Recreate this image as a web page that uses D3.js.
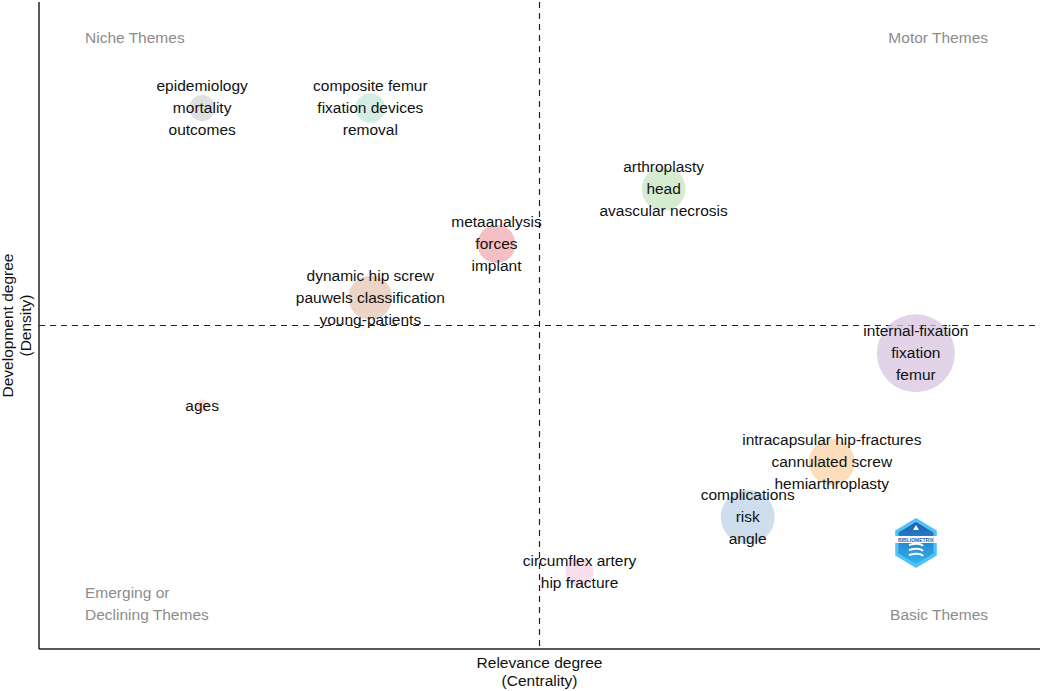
<!DOCTYPE html>
<html>
<head>
<meta charset="utf-8">
<script src="https://cdn.jsdelivr.net/npm/d3@7"></script>
<style>
  body { margin: 0; background: #fff; }
  svg { display: block; font-family: "Liberation Sans", Arial, sans-serif; }
</style>
</head>
<body>
<svg id="chart" width="1040" height="691"></svg>
<script>
// cluster data (centrality, density, frequency)
const clusterLabels = [
  ["epidemiology", "mortality", "outcomes"],
  ["composite femur", "fixation devices", "removal"],
  ["metaanalysis", "forces", "implant"],
  ["dynamic hip screw", "pauwels classification", "young-patients"],
  ["arthroplasty", "head", "avascular necrosis"],
  ["internal-fixation", "fixation", "femur"],
  ["ages"],
  ["intracapsular hip-fractures", "cannulated screw", "hemiarthroplasty"],
  ["complications", "risk", "angle"],
  ["circumflex artery", "hip fracture"]
];
const centrality = [16.3, 33.1, 45.7, 33.1, 62.4, 87.6, 16.3, 79.2, 70.8, 54.0];
const density    = [83.6, 83.6, 62.6, 54.3, 71.1, 45.7, 37.6, 28.9, 20.4, 11.9];
const frequency  = [17, 22, 36, 48, 48, 152, 4, 53, 73, 20];
const colors = ["#d6d6d6", "#c3e8da", "#f2aab3", "#e6c7b3", "#c7e6c1", "#dac4e0",
                "#f9cfc4", "#fbd3a6", "#bfd3e6", "#f9d3e6"];
const centralityMid = 50, densityMid = 50;
const quadrantNames = ["Niche Themes", "Motor Themes", "Emerging or\nDeclining Themes", "Basic Themes"];

const svg = d3.select("#chart");
const margin = { left: 39, right: 0, top: 2, bottom: 42 };
const W = 1040, H = 691;

const x = d3.scaleLinear().domain([0, 100]).range([margin.left, W - margin.right]);
const y = d3.scaleLinear().domain([0, 100]).range([H - margin.bottom, margin.top]);
const r = d3.scaleSqrt().domain([0, 160]).range([0, 40]);

const data = clusterLabels.map((lab, i) => ({
  lines: lab, x: centrality[i], y: density[i], f: frequency[i], c: colors[i]
}));

// quadrant dividers
svg.append("line")
  .attr("x1", x(centralityMid)).attr("x2", x(centralityMid))
  .attr("y1", y(100)).attr("y2", y(0))
  .attr("stroke", "#222").attr("stroke-width", 1.2).attr("stroke-dasharray", "6,5");
svg.append("line")
  .attr("x1", x(0)).attr("x2", x(100))
  .attr("y1", y(densityMid)).attr("y2", y(densityMid))
  .attr("stroke", "#222").attr("stroke-width", 1.2).attr("stroke-dasharray", "6,5");

// axes frame
svg.append("line").attr("x1", x(0)).attr("x2", x(0)).attr("y1", y(100)).attr("y2", y(0))
  .attr("stroke", "#222").attr("stroke-width", 1.5);
svg.append("line").attr("x1", x(0)).attr("x2", x(100)).attr("y1", y(0)).attr("y2", y(0))
  .attr("stroke", "#222").attr("stroke-width", 1.5);

// bubbles
svg.append("g").selectAll("circle")
  .data(data)
  .join("circle")
  .attr("cx", d => x(d.x))
  .attr("cy", d => y(d.y))
  .attr("r", d => r(d.f))
  .attr("fill", d => d.c)
  .attr("fill-opacity", 0.75);

// labels
const lineGap = 22;
const lab = svg.append("g").selectAll("text")
  .data(data)
  .join("text")
  .attr("text-anchor", "middle")
  .attr("font-size", 15.5)
  .attr("fill", "#111");
lab.each(function(d) {
  const n = d.lines.length;
  const start = n === 2 ? -lineGap / 2 : -(n - 1) / 2 * lineGap;
  d3.select(this).selectAll("tspan")
    .data(d.lines)
    .join("tspan")
    .attr("x", x(d.x))
    .attr("y", (t, j) => y(d.y) + start + j * lineGap + 5)
    .text(t => t);
});

// quadrant names
const qg = svg.append("g").attr("fill", "#8c8c8c").attr("font-size", 15.5);
qg.append("text").attr("x", 85).attr("y", 43).text(quadrantNames[0]);
qg.append("text").attr("x", 988).attr("y", 43).attr("text-anchor", "end").text(quadrantNames[1]);
quadrantNames[2].split("\n").forEach((t, i) => {
  qg.append("text").attr("x", 85).attr("y", 598 + i * 22).text(t);
});
qg.append("text").attr("x", 988).attr("y", 620).attr("text-anchor", "end").text(quadrantNames[3]);

// axis titles
const xt = svg.append("text").attr("text-anchor", "middle").attr("font-size", 15.5).attr("fill", "#111");
xt.append("tspan").attr("x", x(centralityMid)).attr("y", 668).text("Relevance degree");
xt.append("tspan").attr("x", x(centralityMid)).attr("y", 686).text("(Centrality)");
const yt = svg.append("text").attr("text-anchor", "middle").attr("font-size", 15.5).attr("fill", "#111")
  .attr("transform", `translate(0,${y(densityMid)}) rotate(-90)`);
yt.append("tspan").attr("x", 0).attr("y", 13).text("Development degree");
yt.append("tspan").attr("x", 0).attr("y", 31).text("(Density)");

// logo
const logo = svg.append("g").attr("transform", "translate(916,543)");
const defs = svg.append("defs");
const grad = defs.append("linearGradient").attr("id", "lg").attr("x1", 0).attr("y1", 0).attr("x2", 0).attr("y2", 1);
grad.append("stop").attr("offset", "0%").attr("stop-color", "#1f5fae");
grad.append("stop").attr("offset", "100%").attr("stop-color", "#2fb4ef");
const hex = d3.range(6).map(k => {
  const a = Math.PI / 3 * k - Math.PI / 2;
  return [Math.cos(a) * 24, Math.sin(a) * 25];
});
logo.append("polygon").attr("points", hex.map(p => p.join(",")).join(" "))
  .attr("fill", "#4fc3f7");
logo.append("polygon").attr("points", hex.map(p => [p[0] * 0.84, p[1] * 0.84].join(",")).join(" "))
  .attr("fill", "url(#lg)");
logo.append("rect").attr("x", -21).attr("y", -7).attr("width", 42).attr("height", 7).attr("fill", "#fff");
logo.append("text").attr("x", 0).attr("y", -1.5).attr("text-anchor", "middle")
  .attr("font-size", 5).attr("font-weight", "bold").attr("fill", "#1f5fae").text("BIBLIOMETRIX");
logo.append("path").attr("d", "M-3,-13 L0,-18 L3,-13 Z").attr("fill", "#fff");
[2, 7, 12].forEach(v => {
  logo.append("path").attr("d", `M-7,${v} Q4,${v - 3} 7,${v + 1}`)
    .attr("stroke", "#fff").attr("stroke-width", 2).attr("fill", "none");
});
</script>
</body>
</html>
